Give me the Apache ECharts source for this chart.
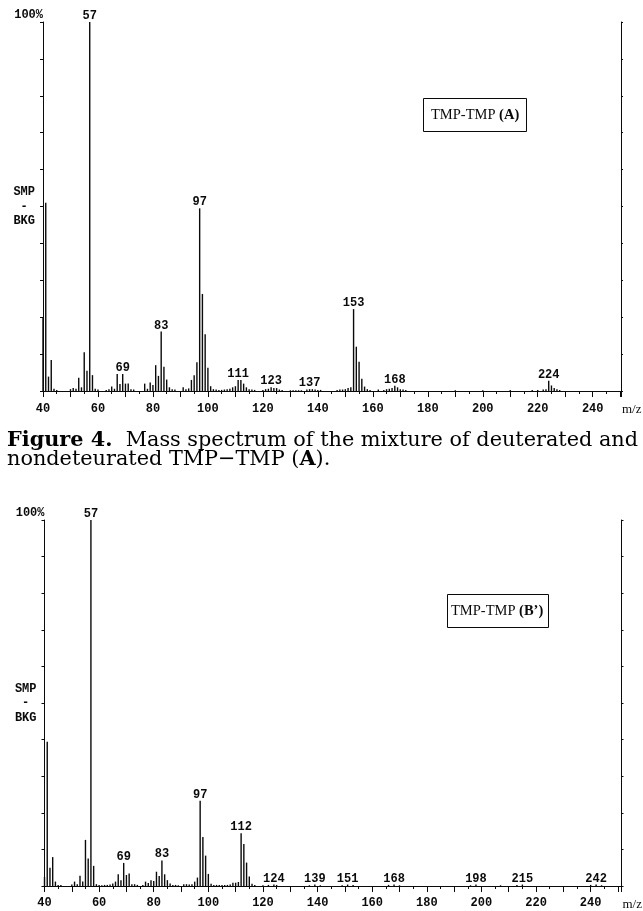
<!DOCTYPE html>
<html>
<head>
<meta charset="utf-8">
<script src="https://cdn.jsdelivr.net/npm/echarts@6/dist/echarts.min.js"></script>
<style>
html,body{margin:0;padding:0;background:#fff;}
#chart{width:643px;height:911px;}
</style>
</head>
<body>
<div id="chart"></div>
<script>
// ---- Data ----
const xTickLabels = [40, 60, 80, 100, 120, 140, 160, 180, 200, 220, 240];

// Spectrum A: TMP-TMP (A)
const mzA = [40,41,42,43,44,45,50,51,52,53,54,55,56,57,58,59,60,63,64,65,66,67,68,69,70,71,72,73,
  77,78,79,80,81,82,83,84,85,86,87,88,91,92,93,94,95,96,97,98,99,100,101,102,103,104,
  105,106,107,108,109,110,111,112,113,114,115,116,117,120,121,122,123,124,125,126,127,
  130,131,132,133,134,136,137,138,139,140,141,147,148,149,150,151,152,153,154,155,156,157,158,159,
  162,164,165,166,167,168,169,170,171,172,190,200,210,218,220,222,223,224,225,226,227,228];
const intA = [20,51,3.9,8.4,0.6,0.3,0.5,0.8,0.6,3.6,1.0,10.5,5.5,100,4.3,0.6,0.4,0.3,0.5,1.2,0.6,4.6,1.9,4.6,2.0,2.0,0.5,0.4,
  2.0,0.6,2.3,1.6,7.0,4.1,16.1,6.6,3.1,1.0,0.5,0.4,1.0,0.5,0.7,3.0,4.3,7.8,49.5,26.3,15.4,6.3,1.3,0.5,0.4,0.3,
  0.3,0.4,0.5,0.6,1.0,1.3,3.0,3.0,2.0,1.0,0.5,0.4,0.3,0.3,0.5,0.6,1.0,0.8,0.8,0.4,0.3,
  0.2,0.2,0.2,0.2,0.2,0.4,0.5,0.5,0.4,0.3,0.3,0.3,0.4,0.4,0.5,0.8,1.0,22.2,12.0,7.9,3.3,1.2,0.5,0.3,
  0.4,0.3,0.5,0.6,0.8,1.4,1.0,0.5,0.4,0.3,0.2,0.2,0.3,0.3,0.3,0.4,0.5,2.8,1.5,0.8,0.5,0.3];
const labelsA = [57,69,83,97,111,123,137,153,168,224];

// Spectrum B': TMP-TMP (B')
const mzB = [40,41,42,43,44,45,46,50,51,52,53,54,55,56,57,58,59,60,61,62,63,64,65,66,67,68,69,70,71,72,73,74,
  76,77,78,79,80,81,82,83,84,85,86,87,88,89,91,92,93,94,95,96,97,98,99,100,101,102,103,104,105,106,107,108,
  109,110,111,112,113,114,115,116,117,120,122,124,125,137,139,141,149,151,153,166,168,170,196,198,207,213,215,240,242,244];
const intB = [2.5,39.4,5.0,7.9,1.2,0.3,0.3,0.4,1.2,0.5,2.8,1.2,12.6,7.5,100,5.5,0.5,0.3,0.2,0.3,0.3,0.4,0.7,1.2,3.2,1.6,6.3,3.0,3.4,0.5,0.5,0.3,
  0.3,1.2,0.8,1.6,1.4,3.9,2.7,7.0,3.2,1.6,0.7,0.3,0.3,0.2,0.5,0.5,0.4,0.5,1.2,2.3,23.3,13.4,8.3,3.3,0.6,0.3,0.3,0.3,0.3,0.3,0.3,0.4,
  0.9,0.9,1.1,14.4,11.5,6.4,2.6,0.6,0.3,0.2,0.3,0.4,0.3,0.2,0.4,0.2,0.2,0.4,0.3,0.3,0.4,0.2,0.2,0.4,0.2,0.3,0.4,0.3,0.4,0.2];
const labelsB = [57,69,83,97,112,124,139,151,168,198,215,242];

// ---- Chart ----
const MONO = 'Liberation Mono';
const SERIF = 'DejaVu Serif';
const INK = '#0a0a0a';

function buildData(mz, vals, labels) {
  return mz.map((m, i) => ({
    value: [m, vals[i]],
    label: { show: labels.indexOf(m) >= 0, formatter: String(m) }
  }));
}

function xAxisCfg(gridIndex, max, labelMargin) {
  return {
    type: 'value', gridIndex, min: 40, max: max, interval: 10,
    axisLine: { show: true, onZero: false, lineStyle: { color: INK, width: 1 } },
    axisTick: { show: true, length: 6, lineStyle: { color: INK } },
    minorTick: { show: true, splitNumber: 2, length: 3, lineStyle: { color: INK } },
    splitLine: { show: false },
    axisLabel: {
      margin: labelMargin, color: INK, fontFamily: MONO, fontWeight: 'bold', fontSize: 12,
      showMinLabel: true, showMaxLabel: true,
      formatter: v => xTickLabels.indexOf(v) >= 0 ? String(v) : ''
    },
    name: 'm/z', nameLocation: 'end', nameGap: 1,
    nameTextStyle: { fontFamily: 'Liberation Serif', fontSize: 13, color: INK, align: 'left', verticalAlign: 'top', padding: [12, 0, 0, 0] }
  };
}
function yLeftCfg(gridIndex) {
  return {
    type: 'value', gridIndex, min: 0, max: 100, interval: 10, position: 'left',
    axisLine: { show: true, lineStyle: { color: INK, width: 1 } },
    axisTick: { show: true, length: 3, lineStyle: { color: INK } },
    splitLine: { show: false },
    axisLabel: {
      margin: 8, color: INK, fontFamily: MONO, fontWeight: 'bold', fontSize: 12, lineHeight: 14.5,
      formatter: v => v === 50 ? 'SMP\n - \nBKG' : ''
    },
    name: '100%', nameLocation: 'end', nameGap: 7,
    nameTextStyle: { fontFamily: MONO, fontWeight: 'bold', fontSize: 12, color: INK, align: 'right', verticalAlign: 'middle' }
  };
}
function yRightCfg(gridIndex) {
  return {
    type: 'value', gridIndex, min: 0, max: 100, interval: 10, position: 'right',
    axisLine: { show: true, lineStyle: { color: INK, width: 1 } },
    axisTick: { show: true, length: 2, lineStyle: { color: INK } },
    splitLine: { show: false },
    axisLabel: { show: false }
  };
}
function barSeries(xi, yi, data) {
  return {
    type: 'bar', xAxisIndex: xi, yAxisIndex: yi, data: data, barWidth: 1.4,
    itemStyle: { color: INK },
    label: { position: 'top', distance: 0, color: INK, fontFamily: MONO, fontWeight: 'bold', fontSize: 12, lineHeight: 12 },
    labelLayout: { hideOverlap: false },
    silent: true
  };
}

const chart = echarts.init(document.getElementById('chart'), null, { renderer: 'canvas' });
chart.setOption({
  animation: false,
  backgroundColor: '#fff',
  grid: [
    { left: 43, top: 22, width: 578, height: 369 },
    { left: 44.5, top: 520, width: 580, height: 369 }
  ],
  xAxis: [ xAxisCfg(0, 250.3, 12), xAxisCfg(1, 251.3, 11) ],
  yAxis: [ yLeftCfg(0), yRightCfg(0), yLeftCfg(1), yRightCfg(1) ],
  title: [
    {
      text: '{b|Figure 4.}  Mass spectrum of the mixture of deuterated and\nnondeteurated TMP\u2212TMP ({b|A}).',
      left: 7, top: 431, padding: 0,
      textStyle: { fontFamily: SERIF, fontSize: 20.8, fontWeight: 'normal', lineHeight: 18.8, color: '#000',
        rich: { b: { fontFamily: SERIF, fontSize: 20.8, fontWeight: 'bold', lineHeight: 18.8, color: '#000' } } }
    },
    {
      text: 'TMP-TMP {b|(A)}', left: 423, top: 98,
      padding: [10, 8, 9, 8], borderWidth: 1, borderColor: INK,
      textStyle: { fontFamily: 'Liberation Serif', fontSize: 14.5, fontWeight: 'normal', lineHeight: 15, color: INK,
        rich: { b: { fontFamily: 'Liberation Serif', fontSize: 14.5, fontWeight: 'bold', lineHeight: 15, color: INK } } }
    },
    {
      text: 'TMP-TMP {b|(B\u2019)}', left: 447, top: 594,
      padding: [10, 6, 9, 4], borderWidth: 1, borderColor: INK,
      textStyle: { fontFamily: 'Liberation Serif', fontSize: 14.5, fontWeight: 'normal', lineHeight: 15, color: INK,
        rich: { b: { fontFamily: 'Liberation Serif', fontSize: 14.5, fontWeight: 'bold', lineHeight: 15, color: INK } } }
    }
  ],
  series: [
    barSeries(0, 0, buildData(mzA, intA, labelsA)),
    barSeries(1, 2, buildData(mzB, intB, labelsB))
  ]
});
</script>
</body>
</html>
